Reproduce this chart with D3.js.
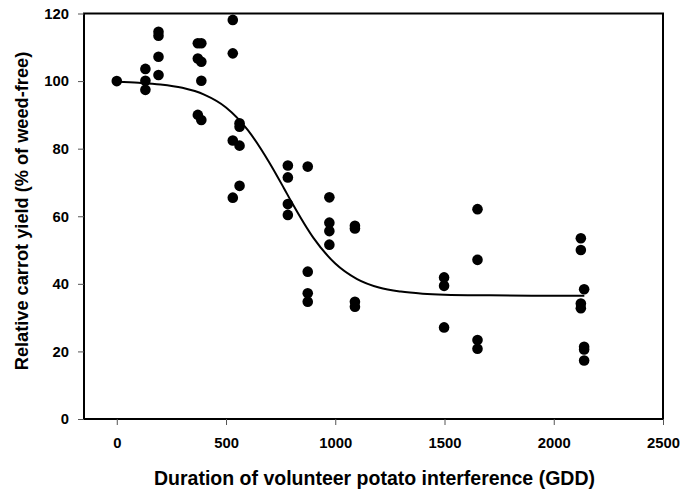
<!DOCTYPE html>
<html>
<head>
<meta charset="utf-8">
<script src="https://cdn.jsdelivr.net/npm/d3@7"></script>
<style>
  html, body { margin: 0; padding: 0; background: #fff; }
  svg { display: block; }
  text { font-family: "Liberation Sans", Arial, Helvetica, sans-serif; font-weight: bold; fill: #000; }
</style>
</head>
<body>
<svg id="chart" width="683" height="491"></svg>
<script>
// Observed points (GDD, relative yield %)
const durationGDD = [
  0,
  131, 131, 131,
  191, 191, 191, 191,
  371, 371, 371,
  387, 387, 387, 387,
  531, 531, 531, 531,
  562, 562, 562, 562,
  783, 783, 783, 783,
  874, 874, 874, 874,
  973, 973, 973, 973,
  1090, 1090, 1090, 1090,
  1498, 1498, 1498,
  1651, 1651, 1651, 1651,
  2124, 2124, 2124, 2124,
  2139, 2139, 2139, 2139
];
const relativeYield = [
  100,
  103.6, 100.1, 97.4,
  114.6, 113.4, 107.2, 101.8,
  111.2, 106.7, 90.0,
  111.2, 105.7, 100.1, 88.5,
  118.1, 108.2, 82.4, 65.5,
  87.5, 86.5, 80.9, 69.0,
  75.0, 71.5, 63.6, 60.4,
  74.7, 43.6, 37.2, 34.7,
  65.6, 58.1, 55.6, 51.6,
  57.2, 56.4, 34.7, 33.2,
  41.9, 39.4, 27.1,
  62.1, 47.1, 23.4, 20.8,
  53.5, 50.0, 34.2, 32.8,
  38.4, 21.4, 20.6, 17.3
];
// Fitted curve
const curveX = [0, 100, 200, 300, 400, 500, 600, 700, 765, 800, 900, 1000, 1100, 1200, 1300, 1400, 1500, 1700, 1900, 2140];
const curveY = [99.8, 99.5, 99.0, 98.0, 96.0, 92.2, 85.5, 75.7, 68.3, 64.2, 53.6, 46.0, 41.4, 38.9, 37.7, 37.1, 36.8, 36.6, 36.5, 36.5];

const xTicks = [0, 500, 1000, 1500, 2000, 2500];
const yTicks = [0, 20, 40, 60, 80, 100, 120];
const xTitle = "Duration of volunteer potato interference (GDD)";
const yTitle = "Relative carrot yield (% of weed-free)";

const W = 683, H = 491;
const m = { left: 84, right: 20, top: 13.5, bottom: 72 };
const svg = d3.select("#chart");

const x = d3.scaleLinear().domain([-150, 2500]).range([m.left, W - m.right]);
const y = d3.scaleLinear().domain([0, 120]).range([H - m.bottom, m.top]);

// frame
svg.append("rect")
  .attr("x", m.left).attr("y", m.top)
  .attr("width", W - m.right - m.left).attr("height", H - m.bottom - m.top)
  .attr("fill", "none").attr("stroke", "#000").attr("stroke-width", 2);

// axes
const xAxis = svg.append("g")
  .attr("transform", `translate(0,${H - m.bottom})`)
  .call(d3.axisBottom(x).tickValues(xTicks).tickSize(6).tickPadding(12).tickFormat(d3.format("d")));
const yAxis = svg.append("g")
  .attr("transform", `translate(${m.left},0)`)
  .call(d3.axisLeft(y).tickValues(yTicks).tickSize(6).tickPadding(9).tickFormat(d3.format("d")));
[xAxis, yAxis].forEach(g => {
  g.select(".domain").remove();
  g.selectAll(".tick line").attr("stroke", "#555").attr("stroke-width", 1);
  g.selectAll(".tick text").style("font-size", "14.8px").attr("fill", "#000");
});

// curve
const curvePts = curveX.map((v, i) => [v, curveY[i]]);
svg.append("path")
  .datum(curvePts)
  .attr("fill", "none").attr("stroke", "#000").attr("stroke-width", 2)
  .attr("d", d3.line().x(d => x(d[0])).y(d => y(d[1])).curve(d3.curveMonotoneX));

// points
svg.append("g").selectAll("circle")
  .data(durationGDD.map((v, i) => [v, relativeYield[i]]))
  .join("circle")
  .attr("cx", d => x(d[0])).attr("cy", d => y(d[1]))
  .attr("r", 5.3).attr("fill", "#000");

// titles
svg.append("text")
  .attr("x", (m.left + W - m.right) / 2 + 1).attr("y", 485)
  .attr("text-anchor", "middle").style("font-size", "19.5px")
  .text(xTitle);
svg.append("text")
  .attr("transform", `translate(28,211) rotate(-90)`)
  .attr("text-anchor", "middle").style("font-size", "18.2px")
  .text(yTitle);
</script>
</body>
</html>
